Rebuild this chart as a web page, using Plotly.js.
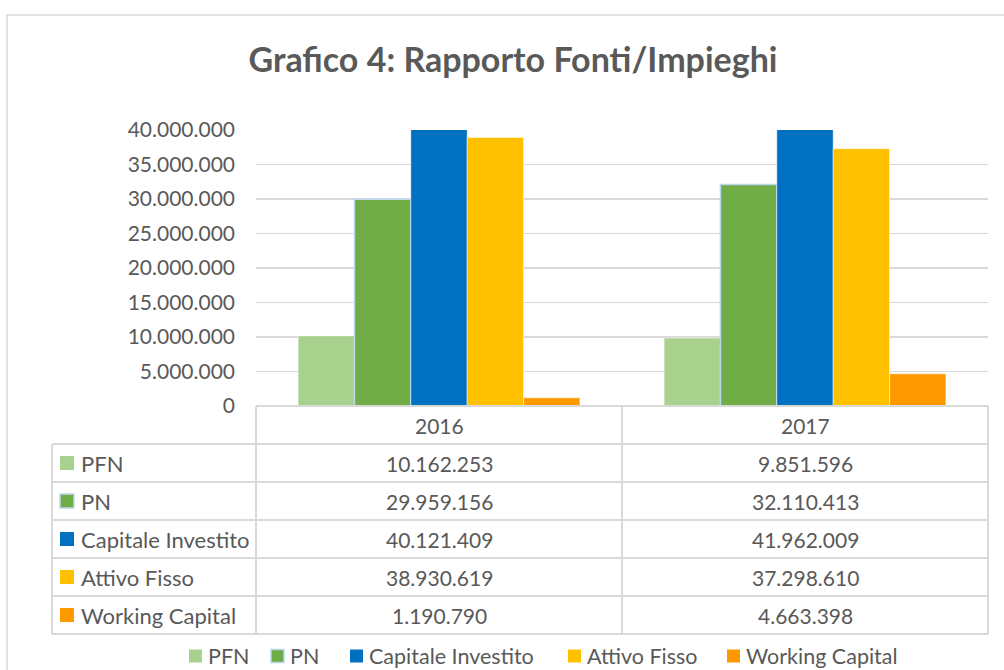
<!DOCTYPE html>
<html>
<head>
<meta charset="utf-8">
<script src="https://cdn.plot.ly/plotly-3.0.1.min.js"></script>
<style>
  body { margin: 0; background: #fff; }
  #chart { width: 1004px; height: 670px; }
</style>
</head>
<body>
<div id="chart"></div>
<script>
const years = ['2016', '2017'];
const seriesNames = ['PFN', 'PN', 'Capitale Investito', 'Attivo Fisso', 'Working Capital'];
const pfn = [10162253, 9851596];
const pn = [29959156, 32110413];
const capitaleInvestito = [40121409, 41962009];
const attivoFisso = [38930619, 37298610];
const workingCapital = [1190790, 4663398];

const seriesValues = [pfn, pn, capitaleInvestito, attivoFisso, workingCapital];
const seriesColors = ['#a9d18e', '#70ad47', '#0070c0', '#ffc000', '#ff9900'];

const TEXT = '#595959';
const GRID = '#d9d9d9';
const FONT = 'Lato, "Noto Sans", sans-serif';

// plot area in page pixels
const L = 256, R = 988, T = 130, B = 406;
const px = x => (x - L) / (R - L);
const py = y => (B - y) / (B - T);

// table rows (page pixels)
const tableLeft = 52;
const headerBottom = 444;
const rowH = 38;

// legend key positions along the bottom (page pixels)
const legendY = 656;
const legendKeyX = [189, 271, 350, 568, 727];

function fmt(v) {
  return String(v).replace(/\B(?=(\d{3})+(?!\d))/g, '.');
}

const keyLine = i => (i === 1 ? { color: '#bdd7ee', width: 1.5 } : { width: 0 });

const traces = seriesNames.map((name, i) => ({
  type: 'bar',
  name: name,
  x: years,
  y: seriesValues[i],
  marker: {
    color: seriesColors[i],
    line: i === 1 ? { color: '#bdd7ee', width: 1.5 } : { color: '#ffffff', width: 0.5 },
  },
  hoverinfo: 'skip',
  showlegend: false,
}));

const line = (x0, y0, x1, y1) => ({
  type: 'line', xref: 'paper', yref: 'paper',
  x0: px(x0), x1: px(x1), y0: py(y0), y1: py(y1),
  line: { color: GRID, width: 2 },
});

const shapes = [];
// outer chart border (only top/left visible in the crop)
shapes.push({
  type: 'rect', xref: 'paper', yref: 'paper', layer: 'below',
  x0: px(7), x1: px(1012), y0: py(15), y1: py(690),
  line: { color: GRID, width: 1.5 },
});
// table grid
const nRows = seriesNames.length;
shapes.push(line(L, B, R, B));
for (let r = 0; r <= nRows; r++) {
  const y = headerBottom + r * rowH;
  shapes.push(line(tableLeft, y, R, y));
}
const tableBottom = headerBottom + nRows * rowH;
shapes.push(line(tableLeft, headerBottom, tableLeft, tableBottom));
[L, (L + R) / 2, R].forEach(x => shapes.push(line(x, B, x, tableBottom)));

const annotations = [];
const textFont = size => ({ size: size, color: TEXT, family: FONT });

// header cells
years.forEach((yr, j) => {
  annotations.push({
    xref: 'x', yref: 'paper', x: j, y: py((B + headerBottom) / 2),
    text: yr, showarrow: false, xanchor: 'center', yanchor: 'middle',
    font: textFont(21),
  });
});

// rows: key square, label, values
seriesNames.forEach((name, i) => {
  const yc = headerBottom + i * rowH + rowH / 2;
  shapes.push({
    type: 'rect', xref: 'paper', yref: 'paper',
    x0: px(60), x1: px(74), y0: py(yc - 7), y1: py(yc + 7),
    fillcolor: seriesColors[i], line: keyLine(i),
  });
  annotations.push({
    xref: 'paper', yref: 'paper', x: px(79), y: py(yc),
    text: name, showarrow: false, xanchor: 'left', yanchor: 'middle',
    font: textFont(22),
  });
  years.forEach((yr, j) => {
    annotations.push({
      xref: 'x', yref: 'paper', x: j, y: py(yc),
      text: fmt(seriesValues[i][j]), showarrow: false, xanchor: 'center', yanchor: 'middle',
      font: textFont(21),
    });
  });
});

// legend along the bottom
seriesNames.forEach((name, i) => {
  const kx = legendKeyX[i];
  shapes.push({
    type: 'rect', xref: 'paper', yref: 'paper',
    x0: px(kx), x1: px(kx + 13), y0: py(legendY - 6.5), y1: py(legendY + 6.5),
    fillcolor: seriesColors[i], line: keyLine(i),
  });
  annotations.push({
    xref: 'paper', yref: 'paper', x: px(kx + 18), y: py(legendY),
    text: name, showarrow: false, xanchor: 'left', yanchor: 'middle',
    borderpad: 0,
    font: textFont(21.5),
  });
});

const layout = {
  width: 1004,
  height: 670,
  margin: { l: L, r: 1004 - R, t: T, b: 670 - B, pad: 0 },
  paper_bgcolor: '#ffffff',
  plot_bgcolor: '#ffffff',
  separators: ',.',
  font: { family: FONT, color: TEXT, size: 21 },
  title: {
    text: '<b>Grafico 4: Rapporto Fonti/Impieghi</b>',
    font: { size: 34, color: TEXT, family: FONT },
    x: 513 / 1004, xref: 'container', xanchor: 'center',
    y: 1 - 60 / 670, yref: 'container', yanchor: 'middle',
  },
  barmode: 'group',
  bargap: 0.23,
  bargroupgap: 0,
  xaxis: {
    type: 'category',
    range: [-0.5, years.length - 0.5],
    showticklabels: false,
    showgrid: false,
    zeroline: false,
    showline: false,
    ticks: '',
    fixedrange: true,
  },
  yaxis: {
    range: [0, 40000000],
    dtick: 5000000,
    tickformat: ',d',
    showgrid: true,
    gridcolor: GRID,
    gridwidth: 1.5,
    zeroline: false,
    showline: false,
    ticks: '',
    ticklabelstandoff: 20,
    tickfont: textFont(21),
    fixedrange: true,
  },
  showlegend: false,
  shapes: shapes,
  annotations: annotations,
};

Plotly.newPlot('chart', traces, layout, { displayModeBar: false, staticPlot: true });
</script>
</body>
</html>
